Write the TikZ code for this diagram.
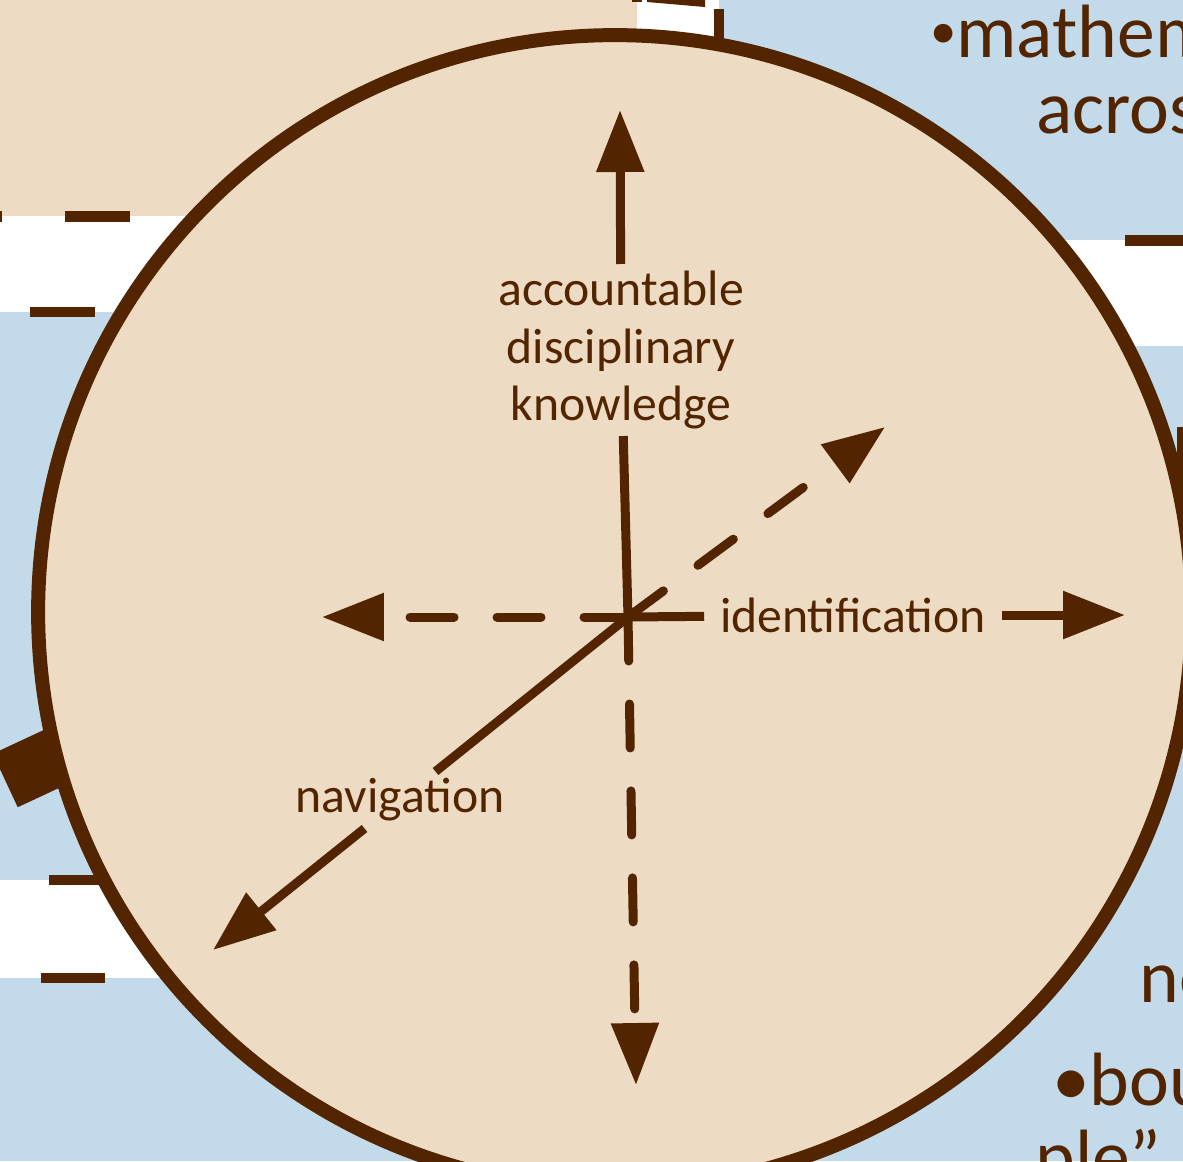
\documentclass[tikz,border=0pt]{standalone}
\usepackage{fontspec}
\setmainfont{Carlito}
\usetikzlibrary{arrows.meta}
\definecolor{rimbrown}{RGB}{82,37,0}
\definecolor{sandfill}{RGB}{237,220,195}
\definecolor{skyblue}{RGB}{194,218,234}
\tikzset{
  rim/.style={draw=rimbrown, line width=0.28cm, fill=sandfill},
  axisline/.style={draw=rimbrown, line width=0.18cm},
  dashaxis/.style={axisline, line cap=round, dash pattern=on 0.88cm off 0.86cm},
  axistip/.style={-{Triangle[length=1.24cm,width=0.92cm]}},
  axislabel/.style={
    text=rimbrown,
    font=\fontsize{28.3pt}{32.7pt}\selectfont,
    inner xsep=9pt,
    inner ysep=4pt,
    outer sep=0pt,
    align=center
  },
  sidetext/.style={text=rimbrown, font=\fontsize{43pt}{52pt}\selectfont, anchor=base west, inner sep=0pt},
  dashmark/.style={fill=rimbrown}
}
\begin{document}
\begin{tikzpicture}[x=0.02cm, y=-0.02cm]
  \useasboundingbox (0,0) rectangle (1183,1161);
  \clip (0,0) rectangle (1183,1161);

  % boxes behind the disc
  \fill[skyblue] (0,0) rectangle (1183,1161);
  \fill[sandfill] (0,0) rectangle (637,216);
  \fill[white] (637,0) rectangle (719,60);
  \fill[white] (0,216) rectangle (320,312);
  \fill[white] (880,240) rectangle (1183,346);
  \fill[white] (0,880) rectangle (320,978);

  % dashed borders of those boxes
  \fill[dashmark] (0,211) rectangle (2,222);
  \fill[dashmark] (65,211) rectangle (130,222);
  \fill[dashmark] (30,307) rectangle (95,317);
  \fill[dashmark] (1125,235) rectangle (1183,246);
  \fill[dashmark] (49,875) rectangle (130,885);
  \fill[dashmark] (41,973) rectangle (105,983);
  \fill[dashmark] (169,973) rectangle (200,983);
  \fill[dashmark] (632,0) rectangle (642,2);
  \fill[dashmark] (647,0) -- (705,0) -- (705,7) -- (647,2) -- cycle;
  \fill[dashmark] (714,9) rectangle (724,40);
  \fill[dashmark, rotate around={25:(32,768)}] (2.5,738.5) rectangle (61.5,797.5);
  \fill[dashmark] (1177,427) rectangle (1200,560);

  % the disc
  \filldraw[rim] (615,612) circle[radius=11.54cm];

  % axes
  \coordinate (hub) at (628,617);
  \coordinate (tipN) at (620,110);
  \coordinate (tipS) at (636,1085);
  \coordinate (tipW) at (322,617);
  \coordinate (tipE) at (1125,615);
  \coordinate (tipNE) at (885,427);
  \coordinate (tipSW) at (213,950);

  \node[axislabel] (knowledge) at (621,350) {accountable\\disciplinary\\knowledge};
  \node[axislabel] (ident) at (853,615) {identification};
  \node[axislabel] (nav) at (400,800) {navigation};

  \draw[axisline] (hub) -- (knowledge);
  \draw[axisline, axistip] (knowledge) -- (tipN);
  \draw[axisline] (hub) -- (ident);
  \draw[axisline, axistip] (ident) -- (tipE);
  \draw[axisline] (hub) -- (nav);
  \draw[axisline, axistip] (nav) -- (tipSW);
  \draw[dashaxis, axistip] (hub) -- (tipS);
  \draw[dashaxis, axistip] (hub) -- (tipW);
  \draw[dashaxis, axistip] (hub) -- (tipNE);

  % text of the neighbouring boxes
  \node[sidetext] (mathem) at (930,57) {\raisebox{5pt}{\fontsize{30pt}{30pt}\selectfont •}mathem};
  \node[sidetext] (acros) at (1036,133) {acros};
  \node[sidetext] (ne) at (1139,1002) {ne};
  \node[sidetext] (bou) at (1052,1105) {•bou};
  \node[sidetext] (ple) at (1035,1182) {ple” “};
\end{tikzpicture}
\end{document}
